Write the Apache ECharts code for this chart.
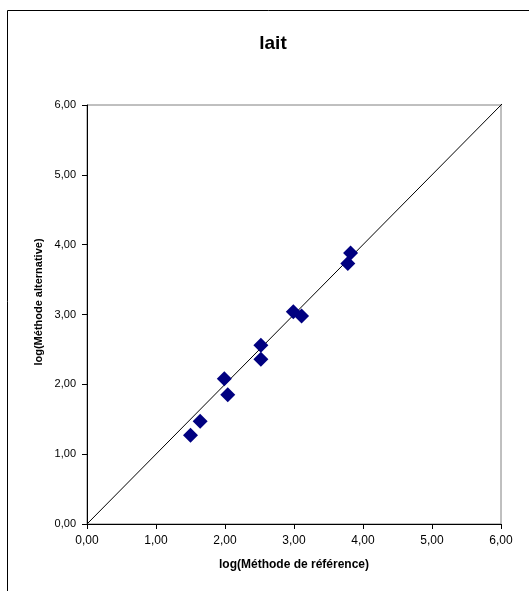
<!DOCTYPE html>
<html><head><meta charset="utf-8">
<script src="https://cdn.jsdelivr.net/npm/echarts@6/dist/echarts.min.js"></script>
<style>html,body{margin:0;padding:0;background:#fff}#c{width:529px;height:591px}</style>
</head><body><div id="c"></div>
<script>
const title = 'lait';
const xName = 'log(Méthode de référence)';
const yName = 'log(Méthode alternative)';
const refValues = [1.50, 1.64, 1.99, 2.04, 2.52, 2.52, 2.99, 3.11, 3.78, 3.82];
const altValues = [1.27, 1.47, 2.08, 1.85, 2.56, 2.36, 3.04, 2.98, 3.73, 3.88];
const lineX = [0, 6.1];
const lineY = [0, 6.1];
const axisMin = 0, axisMax = 6, axisStep = 1;

const fmt = v => v.toFixed(2).replace('.', ',');
const chart = echarts.init(document.getElementById('c'), null, {renderer: 'canvas'});
const font = 'Liberation Sans, Arial, sans-serif';
chart.setOption({
  animation: false,
  backgroundColor: '#fff',
  title: {text: title, left: 268, top: 29, textAlign: 'center',
    textStyle: {fontFamily: font, fontSize: 19, fontWeight: 'bold', color: '#000'}},
  graphic: [
    {type: 'rect', shape: {x: 7.5, y: 10.5, width: 600, height: 700}, style: {fill: 'none', stroke: '#000', lineWidth: 1}, z: 100},
    {type: 'text', x: 294, y: 565, style: {text: xName, font: 'bold 12px ' + font, fill: '#000', align: 'center', verticalAlign: 'middle'}},
    {type: 'text', x: 39, y: 302, rotation: Math.PI / 2, style: {text: yName, font: 'bold 11px ' + font, fill: '#000', align: 'center', verticalAlign: 'middle'}}
  ],
  grid: {left: 87, top: 105, width: 414, height: 419, show: true, borderColor: '#808080', borderWidth: 1, backgroundColor: 'transparent'},
  xAxis: {type: 'value', min: axisMin, max: axisMax, interval: axisStep,
    axisLine: {show: true, lineStyle: {color: '#000', width: 1}},
    axisTick: {show: true, inside: false, length: 5, lineStyle: {color: '#000'}},
    splitLine: {show: false},
    axisLabel: {formatter: fmt, margin: 11, fontFamily: font, fontSize: 12, color: '#000'}},
  yAxis: {type: 'value', min: axisMin, max: axisMax, interval: axisStep,
    axisLine: {show: true, lineStyle: {color: '#000', width: 1}},
    axisTick: {show: true, inside: false, length: 5, lineStyle: {color: '#000'}},
    splitLine: {show: false},
    axisLabel: {formatter: fmt, margin: 11, fontFamily: font, fontSize: 11, color: '#000'}},
  series: [
    {type: 'line', data: lineX.map((x, i) => [x, lineY[i]]), showSymbol: false, clip: false,
      lineStyle: {color: '#000', width: 1}, z: 2},
    {type: 'scatter', data: refValues.map((x, i) => [x, altValues[i]]), symbol: 'diamond', symbolSize: 15,
      itemStyle: {color: '#000080', opacity: 1}, z: 3}
  ]
});
</script></body></html>
